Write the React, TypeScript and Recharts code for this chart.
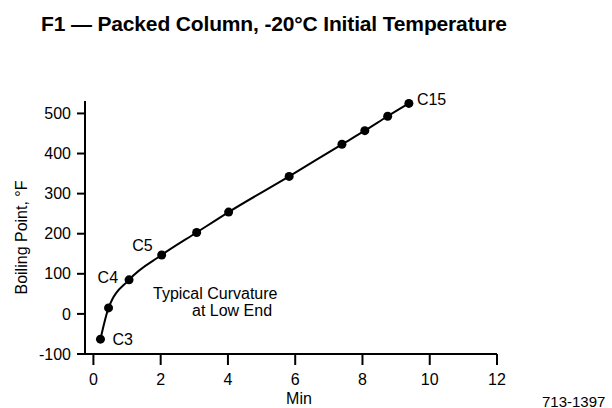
import { LineChart, Line, XAxis, YAxis, LabelList } from 'recharts'

// retention time (min) vs boiling point (°F)
const TIMES = [0.21, 0.45, 1.06, 2.03, 3.07, 4.02, 5.82, 7.39, 8.07, 8.75, 9.38]
const BOILING_F = [-63, 15, 85, 147, 203, 254, 343, 423, 457, 493, 525]
const COMPOUNDS = ['C3', '', 'C4', 'C5', '', '', '', '', '', '', 'C15']

const X_TICKS = [0, 2, 4, 6, 8, 10, 12]
const Y_TICKS = [-100, 0, 100, 200, 300, 400, 500]

const FONT = '"Liberation Sans", Arial, Helvetica, sans-serif'
const W = 612
const H = 408

const data = TIMES.map((t, i) => ({ t, bp: BOILING_F[i], name: COMPOUNDS[i] }))

// where each carbon-number tag sits relative to its dot
const TAG_PLACE: Record<string, { dx: number; dy: number; anchor: 'start' | 'end' }> = {
  C3: { dx: 12, dy: 0, anchor: 'start' },
  C4: { dx: -11, dy: -2, anchor: 'end' },
  C5: { dx: -9, dy: -9, anchor: 'end' },
  C15: { dx: 8, dy: -4, anchor: 'start' },
}

const renderTag = (props: any) => {
  const { x, y, value } = props
  const place = TAG_PLACE[value]
  if (!value || !place) return null
  return (
    <text
      x={x + place.dx}
      y={y + place.dy}
      textAnchor={place.anchor}
      dominantBaseline="central"
      fontFamily={FONT}
      fontSize={16}
      fill="#000"
    >
      {value}
    </text>
  )
}

const axisText = { fill: '#000', fontSize: 16, fontFamily: FONT }
const axisStroke = { stroke: '#000', strokeWidth: 2 }

export default function App() {
  return (
    <div style={{ position: 'absolute', left: 0, top: 0, width: W, height: H, background: '#fff' }}>
      <LineChart
        width={W}
        height={H}
        data={data}
        margin={{ top: 101, right: 115, left: 0, bottom: 0 }}
      >
        <XAxis
          type="number"
          dataKey="t"
          domain={[-0.25, 12]}
          ticks={X_TICKS}
          interval={0}
          height={54}
          tickSize={11}
          tickMargin={9}
          tick={axisText}
          axisLine={axisStroke}
          tickLine={axisStroke}
        />
        <YAxis
          type="number"
          dataKey="bp"
          domain={[-100, 531]}
          ticks={Y_TICKS}
          interval={0}
          width={85}
          tickSize={8}
          tickMargin={6}
          tick={axisText}
          axisLine={axisStroke}
          tickLine={axisStroke}
        />
        <Line
          type="monotone"
          dataKey="bp"
          stroke="#000"
          strokeWidth={2}
          dot={{ r: 4.5, fill: '#000', stroke: '#000', strokeWidth: 0 }}
          activeDot={false}
          isAnimationActive={false}
        >
          <LabelList dataKey="name" content={renderTag} />
        </Line>
      </LineChart>

      <svg
        width={W}
        height={H}
        style={{ position: 'absolute', left: 0, top: 0, pointerEvents: 'none' }}
        fontFamily={FONT}
        fill="#000"
      >
        <text x={41} y={31} fontSize={21} fontWeight="bold" letterSpacing={-0.15}>
          F1 — Packed Column, -20°C Initial Temperature
        </text>
        <text
          x={21.5}
          y={237.5}
          fontSize={16}
          textAnchor="middle"
          dominantBaseline="central"
          transform="rotate(-90 21.5 237.5)"
        >
          Boiling Point, °F
        </text>
        <text x={299} y={404} fontSize={16} textAnchor="middle">Min</text>
        <text x={153} y={299} fontSize={16}>Typical Curvature</text>
        <text x={192} y={315.5} fontSize={16}>at Low End</text>
        <text x={542} y={406.5} fontSize={15}>713-1397</text>
      </svg>
    </div>
  )
}
